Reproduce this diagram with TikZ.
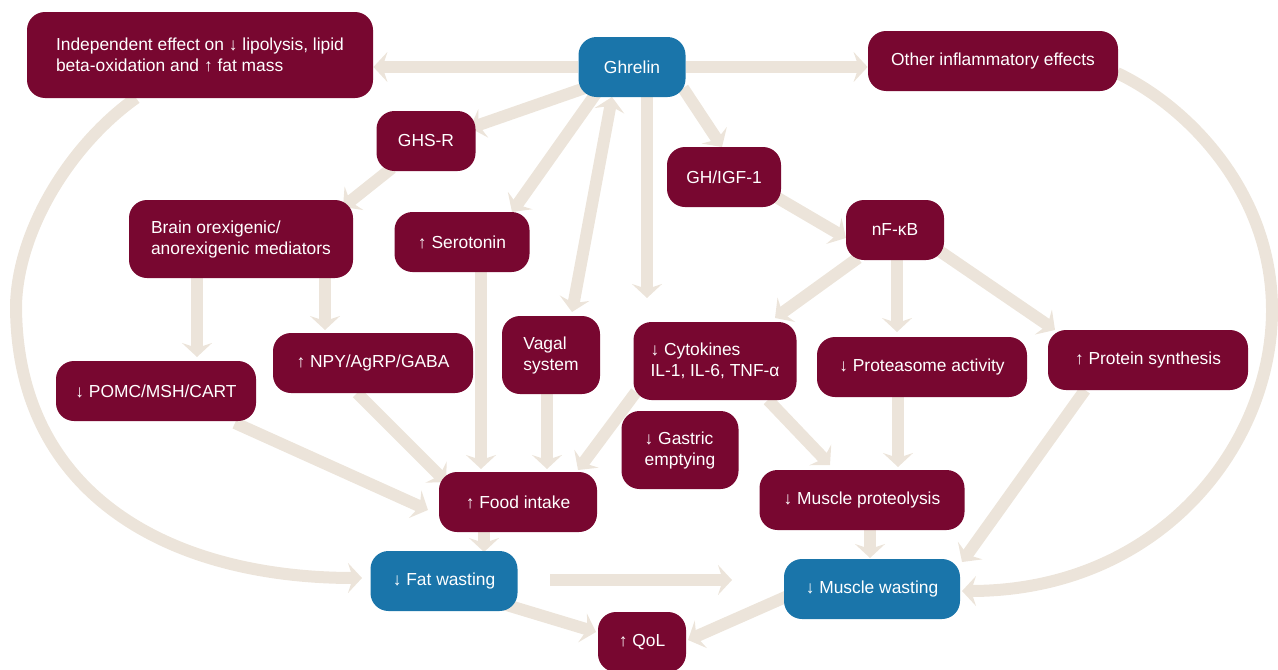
\documentclass[tikz,border=0pt]{standalone}
\usepackage{fontspec}
\setmainfont{Liberation Sans}
\usetikzlibrary{arrows.meta,calc,backgrounds}
\definecolor{maroon}{HTML}{780730}
\definecolor{gblue}{HTML}{1A75AA}
\definecolor{beige}{HTML}{ECE4DA}
\begin{document}
\begin{tikzpicture}[x=0.5pt,y=-0.5pt,
  box/.style 2 args={rounded corners=9pt, fill=maroon, text=white,
    font=\fontsize{8.7}{10.5}\selectfont, inner sep=0pt, align=left,
    minimum width=#1*0.5pt, minimum height=#2*0.5pt},
  hub/.style={fill=gblue},
  >={Stealth[length=7pt,width=15pt,inset=2.5pt]},
  arr/.style={draw=beige, line width=6pt, ->},
  arrboth/.style={draw=beige, line width=6pt, <->}]
\useasboundingbox (0,0) rectangle (1278,669);
% nodes
\node[box={346}{86}] (indep) at (200,55) {Independent effect on ↓ lipolysis, lipid\\beta-oxidation and ↑ fat mass};
\node[box={107}{60}, hub] (ghrelin) at (632,67) {Ghrelin};
\node[box={250}{60}] (other) at (993,61) {Other inflammatory effects};
\node[box={99}{60}] (ghsr) at (426,141) {GHS-R};
\node[box={114}{60}] (ghigf) at (724,177) {GH/IGF-1};
\node[box={98}{60}] (nfkb) at (895,230) {nF-κB};
\node[box={224}{78}] (brain) at (241,239) {Brain orexigenic/\\anorexigenic mediators};
\node[box={135}{60}] (sero) at (462,242) {↑ Serotonin};
\node[box={200}{60}] (pomc) at (156,391) {↓ POMC/MSH/CART};
\node[box={200}{60}] (npy) at (373,363) {↑ NPY/AgRP/GABA};
\node[box={98}{78}] (vagal) at (551,355) {Vagal\\system};
\node[box={163}{78}] (cyto) at (715,361) {↓ Cytokines\\IL-1, IL-6, TNF-α};
\node[box={117}{78}] (gastric) at (680,450) {↓ Gastric\\emptying};
\node[box={210}{60}] (prot) at (922,367) {↓ Proteasome activity};
\node[box={200}{60}] (psyn) at (1148,360) {↑ Protein synthesis};
\node[box={158}{60}] (food) at (518,502) {↑ Food intake};
\node[box={205}{60}] (mprot) at (862,500) {↓ Muscle proteolysis};
\node[box={147}{60}, hub] (fat) at (444,581) {↓ Fat wasting};
\node[box={176}{60}, hub] (mwaste) at (872,589) {↓ Muscle wasting};
\node[box={88}{60}] (qol) at (642,642) {↑ QoL};
% connectors
\begin{scope}[on background layer]
\draw[arr] (ghrelin.west) -- (ghrelin.west -| indep.east);
\draw[arr] (ghrelin.east) -- (ghrelin.east -| other.west);
\draw[arr] ($(ghrelin)+(-47,21)$) -- ($(ghsr)+(44,-13)$);
\draw[arr] ($(ghsr)+(-34,27)$) -- ($(brain)+(102,-32)$);
\draw[arr] ($(ghrelin)+(-35,25)$) -- ($(sero)+(50,-30)$);
\draw[arrboth] ($(ghrelin)+(-20,30)$) -- ($(vagal)+(21,-43)$);
\draw[arr] ($(ghrelin)+(15,30)$) -- ($(cyto)+(-68,-63)$);
\draw[arr] ($(ghrelin)+(51,21)$) -- ($(ghigf)+(-2,-30)$);
\draw[arr] ($(ghigf)+(52,20)$) -- ($(nfkb)+(-49,8)$);
\draw[arr] ($(nfkb)+(-37,28)$) -- ($(cyto)+(60,-43)$);
\draw[arr] ($(nfkb)+(2,30)$) -- ($(prot)+(-25,-35)$);
\draw[arr] ($(nfkb)+(43,20)$) -- ($(psyn)+(-93,-30)$);
\draw[arr] ($(brain)+(-44,39)$) -- ($(pomc)+(41,-34)$);
\draw[arr] ($(brain)+(84,39)$) -- ($(npy)+(-48,-33)$);
\draw[arr] ($(sero)+(19,30)$) -- ($(food)+(-37,-33)$);
\draw[arr] ($(pomc)+(79,32)$) -- ($(food)+(-90,8)$);
\draw[arr] ($(npy)+(-16,30)$) -- ($(food)+(-72,-20)$);
\draw[arr] ($(vagal)+(-4,39)$) -- ($(food)+(29,-33)$);
\draw[arr] ($(cyto)+(-79,31)$) -- ($(food)+(60,-32)$);
\draw[arr] ($(cyto)+(53,39)$) -- ($(mprot)+(-32,-35)$);
\draw[arr] ($(prot)+(-24,30)$) -- ($(mprot)+(36,-33)$);
\draw[arr] ($(psyn)+(-63,30)$) -- ($(mwaste)+(90,-27)$);
\draw[arr] ($(food)+(-34,30)$) -- ($(fat)+(40,-29)$);
\draw[arr] ($(mprot)+(8,30)$) -- ($(mwaste)+(-2,-31)$);
\draw[arr] ($(fat)+(106,-1)$) -- ($(mwaste)+(-140,-9)$);
\draw[arr] ($(fat)+(56,22)$) -- ($(qol)+(-46,-10)$);
\draw[arr] ($(mwaste)+(-82,6)$) -- ($(qol)+(46,-2)$);
\draw[arr] ($(indep)+(-64,43)$) .. controls (70,145) and (18,230) .. (16,305)
  .. controls (16,495) and (170,578) .. ($(fat)+(-82,-3)$);
\draw[arr] ($(other)+(124,12)$) .. controls (1185,105) and (1272,190) .. (1272,310)
  .. controls (1272,445) and (1160,591) .. ($(mwaste)+(90,2)$);
\end{scope}
\end{tikzpicture}
\end{document}
